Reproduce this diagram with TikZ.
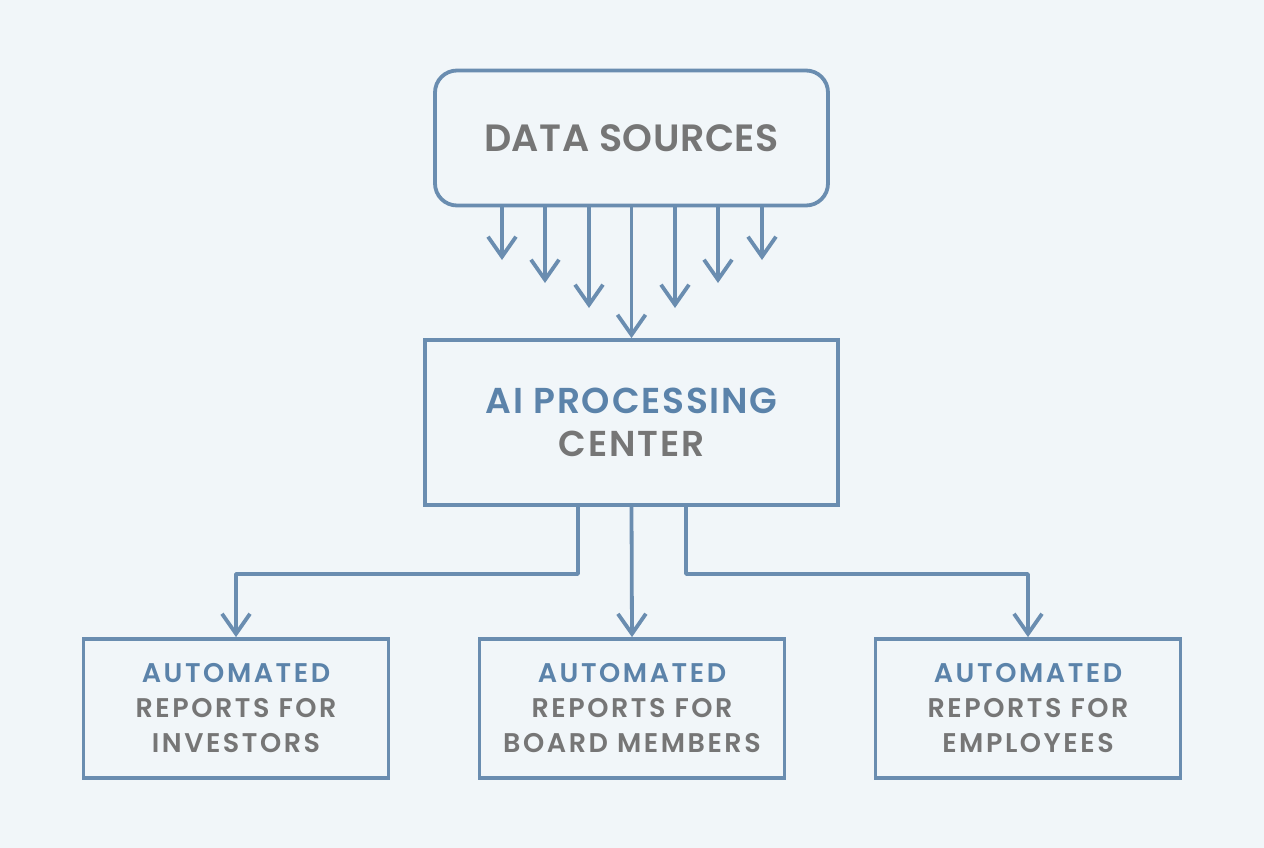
\documentclass[tikz,border=0pt]{standalone}
\usepackage{fontspec}
\setmainfont{Poppins}[UprightFont={* SemiBold}]
\usepackage{tikz}
\usetikzlibrary{arrows.meta}

\definecolor{edgeblue}{HTML}{6A8DB0}
\definecolor{textblue}{HTML}{5B83AA}
\definecolor{textgray}{HTML}{767676}
\definecolor{bgpaper}{HTML}{F1F6F9}

\tikzset{
  box/.style={draw=edgeblue, line width=3.8pt, fill=bgpaper, align=center, inner sep=0pt},
  arr/.style={draw=edgeblue, line width=3.8pt, line join=round,
    -{Straight Barb[length=20pt, width=28pt]}},
  big/.style={font=\fontsize{38}{44}\selectfont\addfontfeature{LetterSpace=1.5}},
  mid/.style={font=\fontsize{36}{43}\selectfont\addfontfeature{LetterSpace=5}},
  small/.style={font=\fontsize{27}{35}\selectfont\addfontfeature{LetterSpace=9.5}}
}

\begin{document}
\begin{tikzpicture}[x=1pt, y=-1pt]
             \fill[bgpaper] (0,0) rectangle (1264,848);
             \useasboundingbox (0,0) rectangle (1264,848);

             \node[box, big, rounded corners=22pt, minimum width=393pt, minimum height=135pt] (ds) at (631.5,138)
                   {\color{textgray}DATA SOURCES};
             \node[box, mid, minimum width=413pt, minimum height=165pt] (ai) at (631.5,422.5)
                   {\color{textblue}AI PROCESSING\\\color{textgray}CENTER};

             \node[box, small, minimum width=305pt, minimum height=139pt] (inv) at (236,708.5)
                   {\color{textblue}AUTOMATED\\\color{textgray}REPORTS FOR\\\color{textgray}INVESTORS};
             \node[box, small, minimum width=305pt, minimum height=139pt] (brd) at (632,708.5)
                   {\color{textblue}AUTOMATED\\\color{textgray}REPORTS FOR\\\color{textgray}BOARD MEMBERS};
             \node[box, small, minimum width=305pt, minimum height=139pt] (emp) at (1028,708.5)
                   {\color{textblue}AUTOMATED\\\color{textgray}REPORTS FOR\\\color{textgray}EMPLOYEES};

             % feeds into the processing center
             \coordinate (f1) at (502,260);
             \coordinate (f2) at (545,283);
             \coordinate (f3) at (589,308);
             \coordinate (f5) at (675,308);
             \coordinate (f6) at (718,283);
             \coordinate (f7) at (762,260);
             \draw[arr] (ds.south -| f1) -- (f1);
             \draw[arr] (ds.south -| f2) -- (f2);
             \draw[arr] (ds.south -| f3) -- (f3);
             \draw[arr] (ds.south) -- (ai.north);
             \draw[arr] (ds.south -| f5) -- (f5);
             \draw[arr] (ds.south -| f6) -- (f6);
             \draw[arr] (ds.south -| f7) -- (f7);

             % report outputs
             \coordinate (jl) at (578,574);
             \coordinate (jr) at (686,574);
             \draw[arr] (ai.south -| jl) -- (jl) -| (inv.north);
             \draw[arr] (ai.south) -- (brd.north);
             \draw[arr] (ai.south -| jr) -- (jr) -| (emp.north);

\end{tikzpicture}
\end{document}
